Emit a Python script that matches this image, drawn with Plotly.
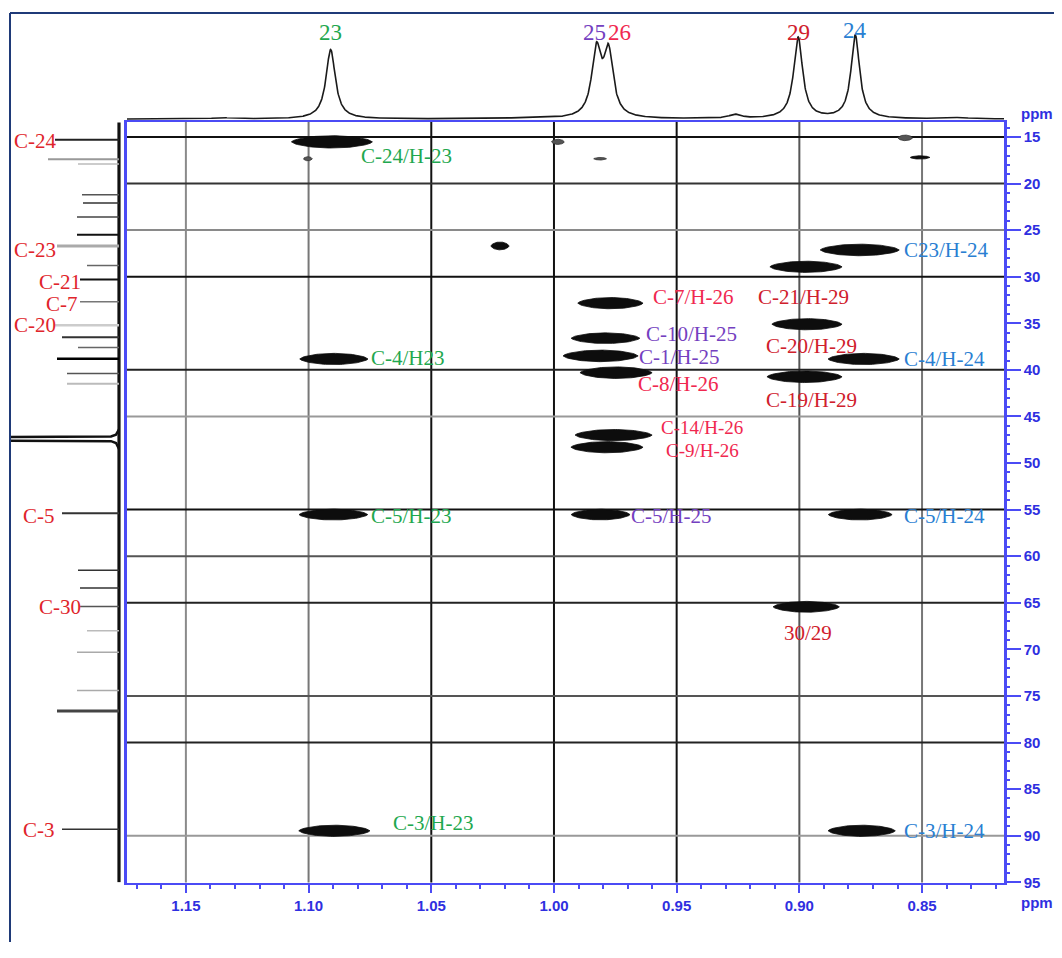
import numpy as np
import plotly.graph_objects as go

# page is 1062x958; the default 8px body margin offsets the figure
OFF = 8
W, H = 1062 - 2 * OFF, 958 - 2 * OFF


def px(x):
    return (x - OFF) / W


def py(y):
    return 1 - (y - OFF) / H


# ---------------- data ----------------
# 1H projection (top trace): labelled methyl singlets
h_labels = ["23", "25", "26", "29", "24"]
h_ppm = [1.0910, 0.9827, 0.9778, 0.9005, 0.8772]
h_amp = [70, 66, 64, 82, 84]
h_fwhm = [0.0046, 0.0046, 0.0046, 0.0044, 0.0042]
# small baseline features of the 1H trace
h_minor_ppm = [0.9262, 1.1350, 1.0120, 0.8350]
h_minor_amp = [4.0, 1.2, 1.0, 1.2]
h_minor_fwhm = [0.0060, 0.0100, 0.0120, 0.0100]

# 13C projection (left trace): peak positions (ppm) and intensities
c_ppm = [15.3, 17.4, 17.9, 21.2, 22.1, 23.6, 25.5, 26.7, 28.8, 30.3, 32.7, 35.2, 36.5,
         37.6, 38.8, 40.4, 41.5, 55.4, 61.5, 63.4, 65.4, 68.0, 70.3, 74.4, 76.6, 89.3]
c_int = [64, 71, 41, 37, 36, 42, 42, 62, 32, 39, 39, 64, 57,
         41, 62, 52, 52, 57, 41, 39, 39, 32, 42, 42, 62, 57]
# clipped solvent signal outline (intensity, ppm)
solv_int = [0, 3, 8, 115, 115, 8, 3, 0]
solv_ppm = [46.4, 46.95, 47.15, 47.2, 47.6, 47.65, 47.85, 48.5]

# 13C assignments on the left
c_lab_text = ["C-24", "C-23", "C-21", "C-7", "C-20", "C-5", "C-30", "C-3"]
c_lab_ppm = [15.43, 27.13, 30.53, 32.98, 35.21, 55.64, 65.43, 89.36]

# HMBC cross peaks: 1H ppm, 13C ppm, half-extent in 1H (ppm), half-extent in 13C (ppm)
xp_h = [1.0905, 1.1003, 0.9984, 0.9812, 0.8569, 0.8508, 1.0220,
        0.8754, 0.8973, 0.8969, 0.8738, 0.8979,
        0.9770, 0.9790, 0.9810, 0.9747, 0.9757, 0.9784,
        1.0897, 1.0899, 0.9810, 0.8752, 0.8972, 1.0895, 0.8746]
xp_c = [15.53, 17.34, 15.53, 17.34, 15.10, 17.20, 26.70,
        27.13, 28.94, 35.10, 38.83, 40.74,
        32.84, 36.60, 38.50, 40.30, 47.00, 48.30,
        38.83, 55.53, 55.53, 55.53, 65.43, 89.47, 89.47]
xp_hw = [0.0165, 0.0018, 0.0026, 0.0026, 0.0030, 0.0040, 0.0037,
         0.0161, 0.0147, 0.0143, 0.0145, 0.0153,
         0.0133, 0.0140, 0.0153, 0.0147, 0.0157, 0.0147,
         0.0139, 0.0140, 0.0120, 0.0130, 0.0135, 0.0145, 0.0137]
xp_cw = [0.66, 0.22, 0.28, 0.14, 0.30, 0.18, 0.42,
         0.62, 0.60, 0.60, 0.60, 0.62,
         0.60, 0.57, 0.62, 0.62, 0.60, 0.60,
         0.60, 0.58, 0.57, 0.58, 0.58, 0.60, 0.60]

# correlation labels: text, left 1H ppm, 13C ppm, proton group
lab_text = ["C-24/H-23", "C23/H-24", "C-7/H-26", "C-21/H-29", "C-10/H-25", "C-20/H-29",
            "C-1/H-25", "C-4/H23", "C-4/H-24", "C-8/H-26", "C-19/H-29", "C-14/H-26",
            "C-9/H-26", "C-5/H-23", "C-5/H-25", "C-5/H-24", "30/29", "C-3/H-23", "C-3/H-24"]
lab_h = [1.0791, 0.8577, 0.9600, 0.9172, 0.9629, 0.9140,
         0.9657, 1.0750, 0.8577, 0.9661, 0.9140, 0.9568,
         0.9547, 1.0750, 0.9690, 0.8577, 0.9066, 1.0660, 0.8577]
lab_c = [17.02, 27.13, 32.13, 32.13, 36.17, 37.45,
         38.62, 38.72, 38.83, 41.49, 43.19, 46.20,
         48.70, 55.64, 55.64, 55.64, 68.19, 88.62, 89.47]
lab_group = ["23", "24", "26", "29", "25", "29",
             "25", "23", "24", "26", "29", "26",
             "26", "23", "25", "24", "29", "23", "24"]

x_ticks = [1.15, 1.10, 1.05, 1.00, 0.95, 0.90, 0.85]
y_ticks = [15, 20, 25, 30, 35, 40, 45, 50, 55, 60, 65, 70, 75, 80, 85, 90, 95]
v_grid = [1.15, 1.10, 1.05, 1.00, 0.95, 0.90, 0.85]
h_grid = [15, 20, 25, 30, 40, 45, 55, 60, 65, 75, 80, 90]

# ---------------- styles ----------------
group_color = {"23": "#1fa84f", "24": "#2a7fd2", "25": "#7440c0",
               "26": "#f0284f", "29": "#d0202c"}
lab_size = {"C-14/H-26": 19, "C-9/H-26": 19}
c_line_colors = ["#222", "#999", "#bbb", "#555", "#333", "#444", "#111", "#aaa", "#666", "#111",
                 "#777", "#ccc", "#333", "#666", "#000", "#555", "#bbb", "#333", "#333", "#333",
                 "#555", "#bbb", "#aaa", "#aaa", "#444", "#333"]
c_line_widths = [2, 2, 1.5, 1.5, 1.5, 1.5, 2, 3, 1.5, 2, 1.5, 2.5, 2, 1.5, 2.5, 1.5, 2,
                 2, 1.5, 1.5, 1.5, 1.5, 1.5, 1.5, 3, 1.5]
v_grid_colors = ["#8a8a8a", "#777", "#111", "#111", "#111", "#555", "#777"]
h_grid_colors = ["#111", "#333", "#8a8a8a", "#111", "#222", "#999", "#111", "#555",
                 "#222", "#555", "#222", "#999"]
AX_BLUE = "#4b4bf5"
TXT_BLUE = "#2f2fe0"
XR = [1.174, 0.8166]
YR = [95.02, 13.4]

fig = go.Figure()

# top 1H projection
grid = np.linspace(XR[0], XR[1], 2400)
spec = np.zeros_like(grid)
for p, a, w in zip(h_ppm + h_minor_ppm, h_amp + h_minor_amp, h_fwhm + h_minor_fwhm):
    spec += a / (1 + ((grid - p) / (w / 2)) ** 2)
fig.add_trace(go.Scatter(x=grid, y=spec, xaxis="x2", yaxis="y2", mode="lines",
                         line=dict(color="#1a1a1a", width=1.6), hoverinfo="skip"))

# left 13C projection
fig.add_trace(go.Scatter(x=[0, 0], y=[13.45, 95.0], xaxis="x3", yaxis="y", mode="lines",
                         line=dict(color="#111", width=3.2), hoverinfo="skip"))
for p, it, col, lw in zip(c_ppm, c_int, c_line_colors, c_line_widths):
    fig.add_trace(go.Scatter(x=[0, it], y=[p, p], xaxis="x3", yaxis="y", mode="lines",
                             line=dict(color=col, width=lw), hoverinfo="skip"))
fig.add_trace(go.Scatter(x=solv_int, y=solv_ppm, xaxis="x3", yaxis="y", mode="lines",
                         line=dict(color="#111", width=2.5), hoverinfo="skip"))

# cross peaks
u = np.linspace(-1, 1, 41)
for hx, cy, hw, cw in zip(xp_h, xp_c, xp_hw, xp_cw):
    prof = (1 - u ** 2) ** 0.65
    xs = np.concatenate([hx + hw * u, hx + hw * u[::-1]])
    ys = np.concatenate([cy - cw * prof, cy + cw * prof[::-1]])
    small = hw < 0.0035
    fig.add_trace(go.Scatter(x=xs, y=ys, xaxis="x", yaxis="y", mode="lines", fill="toself",
                             fillcolor="#555" if small else "#0d0d0d",
                             line=dict(color="#333" if small else "#0d0d0d", width=0.8),
                             hoverinfo="skip"))

shapes = []
for v, col in zip(v_grid, v_grid_colors):
    shapes.append(dict(type="line", xref="x", yref="y domain", x0=v, x1=v, y0=0, y1=1,
                       line=dict(color=col, width=2), layer="below"))
for v, col in zip(h_grid, h_grid_colors):
    shapes.append(dict(type="line", xref="x domain", yref="y", x0=0, x1=1, y0=v, y1=v,
                       line=dict(color=col, width=2), layer="below"))
# outer frame
shapes.append(dict(type="line", xref="paper", yref="paper", x0=px(10), x1=px(10),
                   y0=0, y1=py(13), line=dict(color="#1f3a78", width=2)))
shapes.append(dict(type="line", xref="paper", yref="paper", x0=px(10), x1=1,
                   y0=py(13), y1=py(13), line=dict(color="#1f3a78", width=2)))

ann = []
for t, x, y, g in zip(lab_text, lab_h, lab_c, lab_group):
    ann.append(dict(text=t, x=x, y=y, xref="x", yref="y", xanchor="left", yanchor="middle",
                    showarrow=False, borderpad=0,
                    font=dict(family="Liberation Serif", size=lab_size.get(t, 21),
                              color=group_color[g])))
c_lab_x = {"C-24": 106, "C-23": 106, "C-20": 106, "C-21": 81, "C-30": 81, "C-7": 74,
           "C-5": 97, "C-3": 97}
for t, y in zip(c_lab_text, c_lab_ppm):
    ann.append(dict(text=t, x=c_lab_x[t], y=y, xref="x3", yref="y", xanchor="left",
                    yanchor="middle", showarrow=False, borderpad=0,
                    font=dict(family="Liberation Serif", size=21, color="#e0242b")))
top_pos = {"23": (h_ppm[0], "center"), "25": (0.9783, "right"), "26": (0.9783, "left"),
           "29": (h_ppm[3], "center"), "24": (h_ppm[4], "center")}
for lab in h_labels:
    xv, anc = top_pos[lab]
    ann.append(dict(text=lab, x=xv, y=87 if lab != "24" else 89, xref="x2", yref="y2",
                    xanchor=anc, yanchor="middle", showarrow=False, borderpad=0,
                    font=dict(family="Liberation Serif", size=23, color=group_color[lab])))
for yy in (114, 910):
    ann.append(dict(text="ppm", x=1.0, y=py(yy),
                    xref="paper", yref="paper", xanchor="right", yanchor="middle",
                    showarrow=False, borderpad=0,
                    font=dict(family="Liberation Sans", size=15, color=TXT_BLUE, weight="bold")))

tickfont = dict(family="Liberation Sans", size=15, color=TXT_BLUE, weight="bold")
fig.update_layout(
    width=W, height=H, margin=dict(l=0, r=0, t=0, b=0),
    paper_bgcolor="white", plot_bgcolor="white", showlegend=False,
    xaxis=dict(domain=[px(127), px(1004)], range=XR, anchor="y", showgrid=False, zeroline=False,
               showline=True, linecolor=AX_BLUE, linewidth=2, mirror=True,
               ticks="outside", ticklen=8, tickwidth=2, tickcolor=AX_BLUE,
               tickmode="array", tickvals=x_ticks, ticktext=[f"{v:.2f}" for v in x_ticks],
               tickfont=tickfont,
               minor=dict(ticks="outside", ticklen=4, tickwidth=1.5, tickcolor=AX_BLUE,
                          tick0=0.85, dtick=0.01, showgrid=False)),
    yaxis=dict(domain=[py(890), py(123)], range=YR, anchor="x", side="right",
               showgrid=False, zeroline=False,
               showline=True, linecolor=AX_BLUE, linewidth=2.5, mirror=True,
               ticks="outside", ticklen=14, tickwidth=2, tickcolor=AX_BLUE,
               tickmode="array", tickvals=y_ticks, ticktext=[str(v) for v in y_ticks],
               tickfont=tickfont,
               minor=dict(ticks="outside", ticklen=3, tickwidth=1.5, tickcolor=AX_BLUE,
                          tick0=15, dtick=1, showgrid=False)),
    xaxis2=dict(domain=[px(127), px(1004)], range=XR, anchor="y2", visible=False),
    yaxis2=dict(domain=[py(123), py(14)], range=[-3, 106], anchor="x2", visible=False),
    xaxis3=dict(domain=[px(10), px(121)], range=[109, -2], anchor="y", visible=False),
    shapes=shapes, annotations=ann,
)

fig.write_html("out.html", config={"displayModeBar": False})
